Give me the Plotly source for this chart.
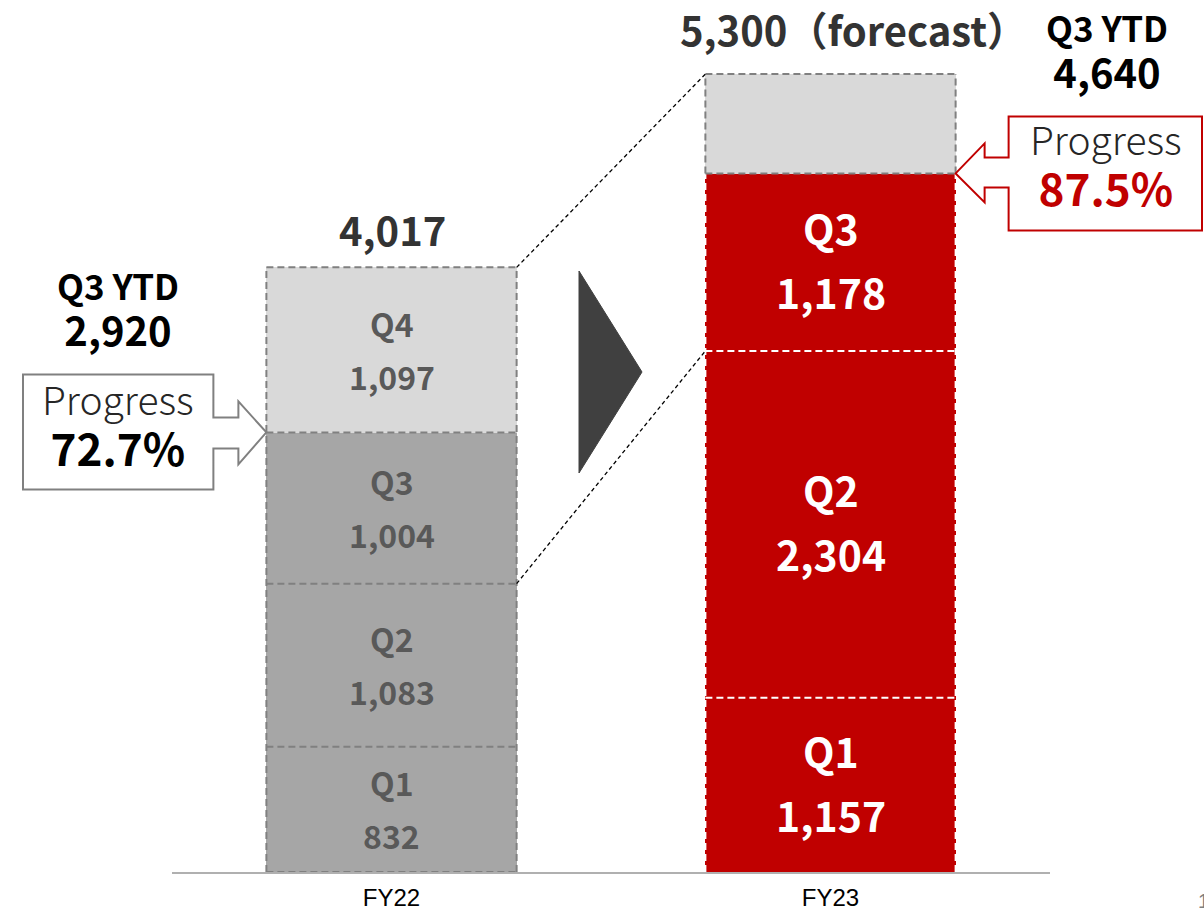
import plotly.graph_objects as go

# ---------------- data ----------------
categories = ["FY22", "FY23"]
quarters = ["Q1", "Q2", "Q3", "Q4"]
fy22_values = [832, 1083, 1004, 1097]
fy23_values = [1157, 2304, 1178]
fy22_total_label = 4017
fy23_forecast = 5300
fy22_ytd = 2920
fy23_ytd = 4640

# ---------------- geometry ----------------
FIG_W, FIG_H = 1204, 910
M_L, M_R, M_T, M_B = 172, 154, 59, 38
Y_MAX = 5400
X_MIN, X_MAX = -0.5, 1.5
BAR_W = 0.57
PLOT_W = FIG_W - M_L - M_R
PLOT_H = FIG_H - M_T - M_B

GREY_DARK = "#A6A6A6"
GREY_LIGHT = "#D9D9D9"
RED = "#C00000"
OUTLINE = "#808080"
FONT = "Noto Sans CJK JP"


def dx_to_px(x):
    return M_L + (x - X_MIN) / (X_MAX - X_MIN) * PLOT_W


def dy_to_px(y):
    return M_T + PLOT_H - y / Y_MAX * PLOT_H


def px_paper(px, py):
    return (px - M_L) / PLOT_W, (M_T + PLOT_H - py) / PLOT_H


fy23_remainder = fy23_forecast - sum(fy23_values)
fy23_segments = fy23_values + [fy23_remainder]
fy22_colors = [GREY_DARK, GREY_DARK, GREY_DARK, GREY_LIGHT]
fy23_colors = [RED, RED, RED, GREY_LIGHT]

fig = go.Figure()
for i in range(4):
    fig.add_trace(go.Bar(
        x=categories,
        y=[fy22_values[i], fy23_segments[i]],
        marker=dict(color=[fy22_colors[i], fy23_colors[i]], line=dict(width=0)),
        width=BAR_W,
        hoverinfo="skip",
        showlegend=False,
    ))

shapes = []
DASH_G = "7px,4px"
DASH_W = "7px,4px"


def vline(x, y0, y1, color, dash):
    shapes.append(dict(type="line", xref="x", yref="y", x0=x, x1=x, y0=y0, y1=y1,
                       line=dict(color=color, width=2, dash=dash), layer="above"))


def hline(xc, y, color, dash):
    shapes.append(dict(type="line", xref="x", yref="y", x0=xc - BAR_W / 2, x1=xc + BAR_W / 2,
                       y0=y, y1=y, line=dict(color=color, width=2, dash=dash), layer="above"))


# FY22 outlines
cum22 = [0]
for v in fy22_values:
    cum22.append(cum22[-1] + v)
for side in (-1, 1):
    vline(0 + side * BAR_W / 2, 0, cum22[-1], OUTLINE, DASH_G)
for y in cum22:
    hline(0, y, OUTLINE, DASH_G)

# FY23 outlines
cum23 = [0]
for v in fy23_values:
    cum23.append(cum23[-1] + v)
for side in (-1, 1):
    vline(1 + side * BAR_W / 2, 0, cum23[-1], "white", DASH_W)
for y in cum23[1:-1]:
    hline(1, y, "white", DASH_W)
for side in (-1, 1):
    vline(1 + side * BAR_W / 2, cum23[-1], fy23_forecast, OUTLINE, DASH_G)
hline(1, cum23[-1], OUTLINE, DASH_G)
hline(1, fy23_forecast, OUTLINE, DASH_G)

# connector lines
for (ya, yb) in [(cum22[-1], fy23_forecast), (cum22[2], cum23[2])]:
    shapes.append(dict(type="line", xref="x", yref="y",
                       x0=0 + BAR_W / 2, y0=ya, x1=1 - BAR_W / 2, y1=yb,
                       line=dict(color="black", width=1.3, dash="4px,3px"), layer="above"))

# chevron triangle between bars
cx = dx_to_px(0.5)
tri = [(cx - 32, 271), (cx + 31, 372), (cx - 32, 473)]
tri_p = [px_paper(*p) for p in tri]
shapes.append(dict(type="path", xref="paper", yref="paper",
                   path="M {} {} L {} {} L {} {} Z".format(tri_p[0][0], tri_p[0][1], tri_p[1][0], tri_p[1][1], tri_p[2][0], tri_p[2][1]),
                   fillcolor="#404040", line=dict(color="#404040", width=1), layer="above"))


def callout_path(pts):
    pp = [px_paper(*p) for p in pts]
    s = "M {} {}".format(*pp[0])
    for p in pp[1:]:
        s += " L {} {}".format(*p)
    return s + " Z"


# left callout (arrow to the right)
tx, ty = dx_to_px(0 - BAR_W / 2), dy_to_px(fy22_ytd)
left_pts = [(23, ty - 58), (tx - 53, ty - 58), (tx - 53, ty - 15), (tx - 28, ty - 15),
            (tx - 28, ty - 31), (tx, ty), (tx - 28, ty + 32), (tx - 28, ty + 16),
            (tx - 53, ty + 16), (tx - 53, ty + 57), (23, ty + 57)]
shapes.append(dict(type="path", xref="paper", yref="paper", path=callout_path(left_pts),
                   fillcolor="white", line=dict(color=OUTLINE, width=2), layer="above"))

# right callout (arrow to the left)
tx2, ty2 = dx_to_px(1 + BAR_W / 2), dy_to_px(fy23_ytd)
right_pts = [(1202, ty2 - 57), (tx2 + 53, ty2 - 57), (tx2 + 53, ty2 - 16), (tx2 + 29, ty2 - 16),
             (tx2 + 29, ty2 - 30), (tx2, ty2), (tx2 + 29, ty2 + 29), (tx2 + 29, ty2 + 14),
             (tx2 + 53, ty2 + 14), (tx2 + 53, ty2 + 57), (1202, ty2 + 57)]
shapes.append(dict(type="path", xref="paper", yref="paper", path=callout_path(right_pts),
                   fillcolor="white", line=dict(color=RED, width=2), layer="above"))

annotations = []


def text_px(txt, px, py, size, color, bold=True, weight=None):
    xp, yp = px_paper(px, py - 3)
    annotations.append(dict(text=txt, x=xp, y=yp, xref="paper", yref="paper",
                            xanchor="center", yanchor="middle", showarrow=False,
                            font=dict(family=FONT, size=size, color=color,
                                      weight=weight if weight else (700 if bold else 400))))


# segment labels
for i in range(4):
    mid = cum22[i] + fy22_values[i] / 2
    for lbl, shift in [(quarters[i], 27), ("{:,}".format(fy22_values[i]), -26)]:
        annotations.append(dict(text=lbl, x=0, y=mid, xref="x", yref="y", yshift=shift,
                                showarrow=False, xanchor="center", yanchor="middle",
                                font=dict(family=FONT, size=32, color="#595959", weight=700)))
for i in range(3):
    mid = cum23[i] + fy23_values[i] / 2
    for lbl, shift in [(quarters[i], 35), ("{:,}".format(fy23_values[i]), -29)]:
        annotations.append(dict(text=lbl, x=1, y=mid, xref="x", yref="y", yshift=shift,
                                showarrow=False, xanchor="center", yanchor="middle",
                                font=dict(family=FONT, size=41, color="white", weight=700)))

# totals
text_px("{:,}".format(fy22_total_label), 392, 232, 40, "#333333")
text_px("{:,}（forecast）".format(fy23_forecast), 853, 32, 40, "#333333")

# YTD labels (two-line blocks)
ytd_tpl = "Q3 YTD<br><span style='font-size:40px'>{:,}</span>"
text_px(ytd_tpl.format(fy22_ytd), 118, 311, 35, "black")
text_px(ytd_tpl.format(fy23_ytd), 1107, 54, 35, "black")

# progress (two-line blocks)
prog_tpl = "Progress<br><b><span style='font-size:44px;color:{}'>{:.1f}%</span></b>"
text_px(prog_tpl.format("black", fy22_ytd / fy22_total_label * 100), 118, 427, 39, "#262626", weight=300)
text_px(prog_tpl.format(RED, fy23_ytd / fy23_forecast * 100), 1106, 167, 39, "#262626", weight=300)

# page number (cut at edge)
xp, yp = px_paper(1196, 901)
annotations.append(dict(text="1", x=xp, y=yp, xref="paper", yref="paper", xanchor="left",
                        yanchor="middle", showarrow=False,
                        font=dict(family="Liberation Sans", size=20, color="#808080")))

fig.update_layout(
    width=FIG_W, height=FIG_H,
    margin=dict(l=M_L, r=M_R, t=M_T, b=M_B, pad=0, autoexpand=False),
    barmode="stack",
    plot_bgcolor="white", paper_bgcolor="white",
    showlegend=False,
    shapes=shapes,
    annotations=annotations,
    xaxis=dict(type="category", range=[X_MIN, X_MAX], showgrid=False, zeroline=False,
               showline=True, linecolor="#B0B0B0", linewidth=2, ticks="", automargin=False,
               tickfont=dict(family="Liberation Sans", size=24, color="black"),
               ticklabelstandoff=3),
    yaxis=dict(range=[0, Y_MAX], visible=False, showgrid=False, zeroline=False, automargin=False),
)

post = "document.body.style.margin='0';document.body.style.padding='0';document.body.style.overflow='hidden';"
fig.write_html("out.html", config={"displayModeBar": False}, post_script=post)
